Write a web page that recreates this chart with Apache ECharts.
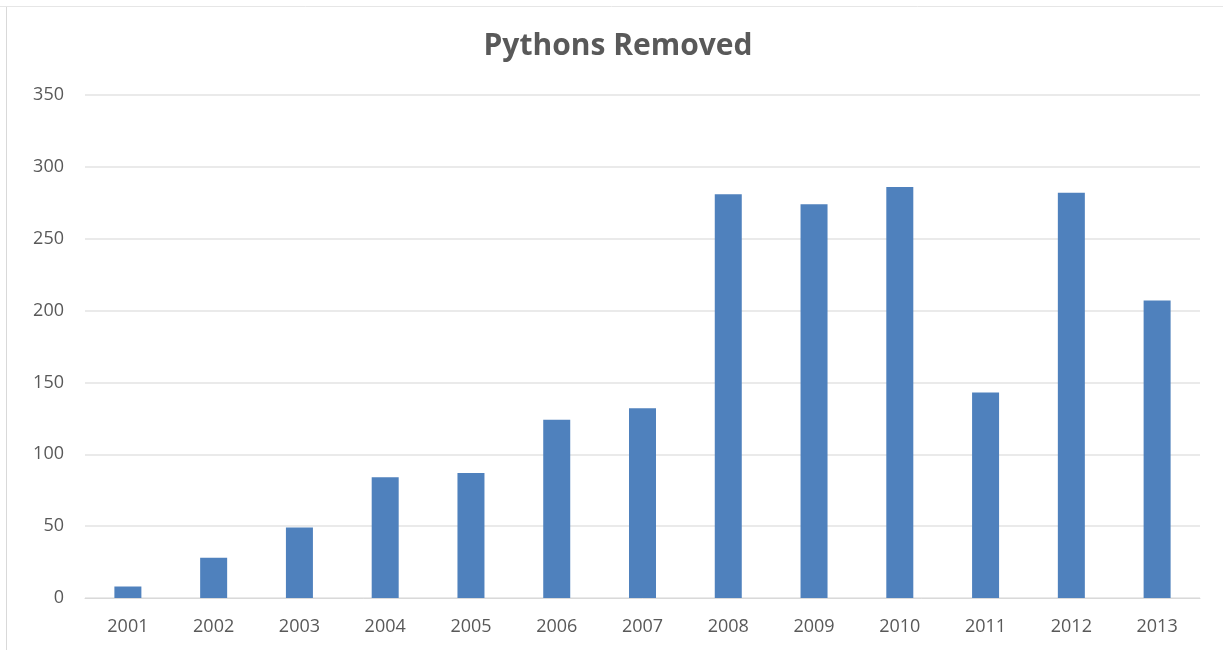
<!DOCTYPE html>
<html>
<head>
<meta charset="utf-8">
<script src="https://cdn.jsdelivr.net/npm/echarts@6/dist/echarts.min.js"></script>
<style>
html,body{margin:0;padding:0;background:#fff;}
#chart{width:1223px;height:650px;}
</style>
</head>
<body>
<div id="chart"></div>
<script>
const titleText = "Pythons Removed";
const years = ["2001","2002","2003","2004","2005","2006","2007","2008","2009","2010","2011","2012","2013"];
const removed = [8, 28, 49, 84, 87, 124, 132, 281, 274, 286, 143, 282, 207];
const yTicks = { min: 0, max: 350, interval: 50 };

const chart = echarts.init(document.getElementById('chart'), null, {renderer: 'canvas'});
chart.setOption({
  backgroundColor: '#ffffff',
  animation: false,
  title: {
    text: titleText,
    left: 613, textAlign: 'center',
    top: 26,
    textStyle: { fontFamily: 'Open Sans', fontWeight: 'bold', fontSize: 30, color: '#595959' }
  },
  graphic: [
    { type: 'line', shape: { x1: 6.5, y1: 6, x2: 6.5, y2: 650 }, style: { stroke: '#d9d9d9', lineWidth: 1 } },
    { type: 'line', shape: { x1: 0, y1: 6.5, x2: 1223, y2: 6.5 }, style: { stroke: '#e6e6e6', lineWidth: 1 } }
  ],
  grid: { left: 85, right: 23, top: 95, bottom: 52, containLabel: false },
  xAxis: {
    type: 'category',
    data: years,
    axisLine: { show: true, lineStyle: { color: '#d9d9d9', width: 1 } },
    axisTick: { show: false },
    axisLabel: { color: '#595959', fontFamily: 'Open Sans', fontSize: 18, margin: 20 }
  },
  yAxis: {
    type: 'value',
    min: yTicks.min, max: yTicks.max, interval: yTicks.interval,
    axisLine: { show: false },
    axisTick: { show: false },
    splitLine: { lineStyle: { color: '#e3e3e3', width: 1.5 } },
    axisLabel: { color: '#595959', fontFamily: 'Open Sans', fontSize: 18, margin: 21 }
  },
  series: [{
    type: 'bar',
    data: removed,
    barWidth: 27,
    itemStyle: { color: '#4f81bd' }
  }]
});
</script>
</body>
</html>
